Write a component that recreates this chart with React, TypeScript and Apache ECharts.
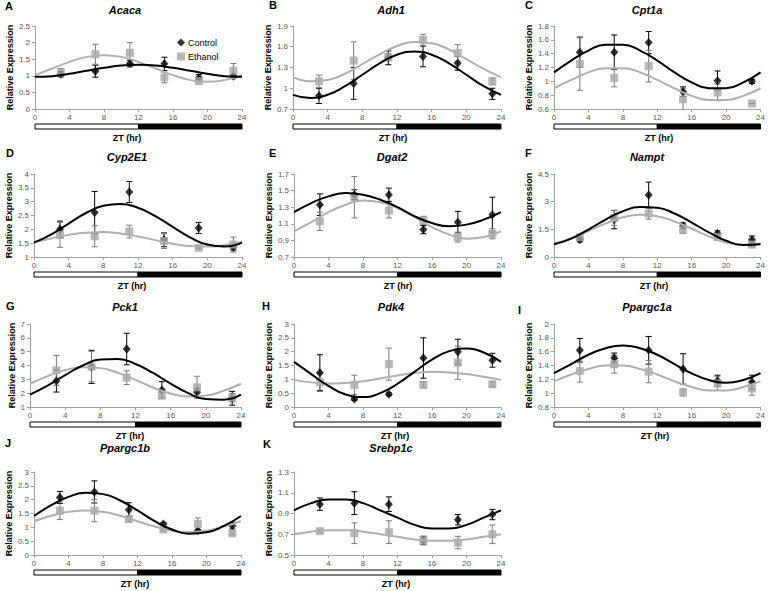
import React, { useEffect, useRef } from 'react';
import * as echarts from 'echarts';

// ---------- shared values ----------
const sampleHours = [3, 7, 11, 15, 19, 23];
const fitHours = [0, 2, 4, 6, 8, 10, 12, 14, 16, 18, 20, 22, 24];
const xTicks = [0, 4, 8, 12, 16, 20, 24];
const photoFrom = [0, 12];
const photoTo = [12, 24];
const photoFill = ['#ffffff', '#000000'];

// ---------- A  Acaca ----------
const acacaTicks = [0, 0.5, 1, 1.5, 2, 2.5];
const acacaControl = [1.05, 1.14, 1.37, 1.36, 0.94, 0.99];
const acacaControlErr = [0.08, 0.18, 0.1, 0.2, 0.1, 0.05];
const acacaEthanol = [1.1, 1.65, 1.69, 0.95, 0.84, 1.15];
const acacaEthanolErr = [0.12, 0.3, 0.31, 0.16, 0.05, 0.22];
const acacaControlFit = [0.97, 0.99, 1.06, 1.15, 1.24, 1.31, 1.33, 1.31, 1.24, 1.15, 1.06, 0.99, 0.97];
const acacaEthanolFit = [1.02, 1.22, 1.42, 1.57, 1.62, 1.57, 1.42, 1.22, 1.02, 0.87, 0.82, 0.87, 1.02];

// ---------- B  Adh1 ----------
const adh1Ticks = [0.7, 1.0, 1.3, 1.6, 1.9];
const adh1Control = [0.89, 1.07, 1.44, 1.46, 1.36, 0.92];
const adh1ControlErr = [0.11, 0.23, 0.1, 0.15, 0.1, 0.08];
const adh1Ethanol = [1.1, 1.4, 1.45, 1.7, 1.51, 1.1];
const adh1EthanolErr = [0.09, 0.27, 0.05, 0.08, 0.12, 0.05];
const adh1ControlFit = [0.905, 0.86, 0.905, 1.03, 1.195, 1.36, 1.485, 1.53, 1.485, 1.36, 1.195, 1.03, 0.905];
const adh1EthanolFit = [1.16, 1.1, 1.12, 1.21, 1.35, 1.49, 1.61, 1.67, 1.65, 1.56, 1.42, 1.28, 1.16];

// ---------- C  Cpt1a ----------
const cpt1aTicks = [0.6, 0.8, 1, 1.2, 1.4, 1.6, 1.8];
const cpt1aControl = [1.42, 1.42, 1.56, 0.85, 1.01, 1.0];
const cpt1aControlErr = [0.22, 0.25, 0.16, 0.07, 0.14, 0.03];
const cpt1aEthanol = [1.25, 1.05, 1.22, 0.74, 0.84, 0.68];
const cpt1aEthanolErr = [0.38, 0.13, 0.23, 0.16, 0.12, 0];
const cpt1aControlFit = [1.13, 1.3, 1.445, 1.53, 1.53, 1.445, 1.3, 1.13, 0.985, 0.9, 0.9, 0.985, 1.13];
const cpt1aEthanolFit = [0.9, 1.02, 1.13, 1.19, 1.19, 1.13, 1.02, 0.9, 0.79, 0.73, 0.73, 0.79, 0.9];

// ---------- D  Cyp2E1 ----------
const cyp2e1Ticks = [1, 1.5, 2, 2.5, 3, 3.5, 4];
const cyp2e1Control = [2.0, 2.61, 3.35, 1.62, 2.05, 1.35];
const cyp2e1ControlErr = [0.3, 0.76, 0.38, 0.25, 0.2, 0.1];
const cyp2e1Ethanol = [1.8, 1.75, 1.92, 1.58, 1.33, 1.45];
const cyp2e1EthanolErr = [0.45, 0.38, 0.23, 0.27, 0.03, 0.27];
const cyp2e1ControlFit = [1.52, 1.82, 2.21, 2.59, 2.85, 2.92, 2.78, 2.48, 2.09, 1.71, 1.45, 1.38, 1.52];
const cyp2e1EthanolFit = [1.54, 1.67, 1.8, 1.88, 1.9, 1.85, 1.74, 1.61, 1.48, 1.4, 1.38, 1.43, 1.54];

// ---------- E  Dgat2 ----------
const dgat2Ticks = [0.7, 0.9, 1.1, 1.3, 1.5, 1.7];
const dgat2Control = [1.33, 1.45, 1.45, 1.03, 1.12, 1.21];
const dgat2ControlErr = [0.13, 0.06, 0.08, 0.05, 0.13, 0.21];
const dgat2Ethanol = [1.13, 1.42, 1.26, 1.14, 0.94, 0.98];
const dgat2EthanolErr = [0.11, 0.25, 0.09, 0.05, 0.06, 0.06];
const dgat2ControlFit = [1.24, 1.35, 1.43, 1.47, 1.45, 1.39, 1.3, 1.19, 1.11, 1.07, 1.09, 1.15, 1.24];
const dgat2EthanolFit = [1.01, 1.12, 1.24, 1.33, 1.38, 1.36, 1.29, 1.18, 1.06, 0.97, 0.92, 0.94, 1.01];

// ---------- F  Nampt ----------
const namptTicks = [0, 1.5, 3, 4.5];
const namptControl = [0.94, 2.03, 3.36, 1.7, 1.27, 0.94];
const namptControlErr = [0.12, 0.5, 0.7, 0.15, 0.15, 0.2];
const namptEthanol = [1.07, 2.12, 2.35, 1.48, 1.08, 0.67];
const namptEthanolErr = [0.15, 0.4, 0.3, 0.2, 0.15, 0.1];
const namptControlFit = [0.69, 1.0, 1.49, 2.03, 2.48, 2.71, 2.67, 2.36, 1.87, 1.33, 0.88, 0.65, 0.69];
const namptEthanolFit = [0.73, 1.01, 1.41, 1.82, 2.15, 2.29, 2.21, 1.93, 1.53, 1.12, 0.79, 0.65, 0.73];

// ---------- G  Pck1 ----------
const pck1Ticks = [1, 2, 3, 4, 5, 6, 7];
const pck1Control = [2.88, 3.9, 5.19, 2.23, 2.06, 1.63];
const pck1ControlErr = [0.8, 1.2, 1.14, 0.6, 0.3, 0.5];
const pck1Ethanol = [3.65, 3.92, 3.12, 1.82, 2.42, 1.67];
const pck1EthanolErr = [1.08, 1.1, 0.5, 0.2, 0.8, 0.3];
const pck1ControlFit = [1.89, 2.54, 3.31, 4.0, 4.43, 4.47, 4.11, 3.46, 2.69, 2.0, 1.57, 1.53, 1.89];
const pck1EthanolFit = [2.68, 3.23, 3.67, 3.88, 3.81, 3.47, 2.96, 2.41, 1.97, 1.76, 1.83, 2.17, 2.68];

// ---------- H  Pdk4 ----------
const pdk4Ticks = [0, 0.5, 1, 1.5, 2, 2.5, 3];
const pdk4Control = [1.24, 0.29, 0.46, 1.77, 2.0, 1.69];
const pdk4ControlErr = [0.65, 0.05, 0.05, 0.73, 0.45, 0.25];
const pdk4Ethanol = [0.89, 0.8, 1.55, 0.8, 1.6, 0.82];
const pdk4EthanolErr = [0.33, 0.35, 0.58, 0.1, 0.6, 0.08];
const pdk4ControlFit = [1.63, 1.19, 0.76, 0.45, 0.36, 0.5, 0.84, 1.28, 1.71, 2.02, 2.11, 1.97, 1.63];
const pdk4EthanolFit = [0.98, 0.89, 0.85, 0.87, 0.93, 1.03, 1.14, 1.23, 1.27, 1.25, 1.19, 1.09, 0.98];

// ---------- I  Ppargc1a ----------
const ppargc1aTicks = [0.8, 1, 1.2, 1.4, 1.6, 1.8, 2];
const ppargc1aControl = [1.62, 1.51, 1.62, 1.35, 1.18, 1.16];
const ppargc1aControlErr = [0.17, 0.07, 0.2, 0.22, 0.08, 0.1];
const ppargc1aEthanol = [1.32, 1.42, 1.31, 1.01, 1.14, 1.07];
const ppargc1aEthanolErr = [0.16, 0.13, 0.16, 0.05, 0.1, 0.1];
const ppargc1aControlFit = [1.29, 1.42, 1.555, 1.65, 1.69, 1.65, 1.555, 1.42, 1.285, 1.19, 1.15, 1.19, 1.29];
const ppargc1aEthanolFit = [1.17, 1.27, 1.35, 1.4, 1.4, 1.35, 1.27, 1.17, 1.09, 1.04, 1.04, 1.09, 1.17];

// ---------- J  Ppargc1b ----------
const ppargc1bTicks = [0, 0.5, 1, 1.5, 2, 2.5, 3];
const ppargc1bControl = [2.08, 2.28, 1.64, 1.12, 0.88, 1.06];
const ppargc1bControlErr = [0.22, 0.4, 0.25, 0.05, 0.05, 0.12];
const ppargc1bEthanol = [1.6, 1.6, 1.3, 0.92, 1.12, 0.78];
const ppargc1bEthanolErr = [0.32, 0.4, 0.1, 0.05, 0.22, 0.05];
const ppargc1bControlFit = [1.41, 1.8, 2.1, 2.25, 2.2, 1.97, 1.61, 1.22, 0.92, 0.77, 0.82, 1.05, 1.41];
const ppargc1bEthanolFit = [1.22, 1.42, 1.56, 1.61, 1.56, 1.42, 1.22, 1.03, 0.88, 0.83, 0.88, 1.03, 1.22];

// ---------- K  Srebp1c ----------
const srebp1cTicks = [0.5, 0.7, 0.9, 1.1, 1.3];
const srebp1cControl = [0.99, 1.0, 0.99, 0.64, 0.84, 0.89];
const srebp1cControlErr = [0.06, 0.11, 0.07, 0.04, 0.05, 0.05];
const srebp1cEthanol = [0.73, 0.71, 0.72, 0.64, 0.62, 0.7];
const srebp1cEthanolErr = [0.01, 0.1, 0.11, 0.04, 0.06, 0.09];
const srebp1cControlFit = [0.93, 1.0, 1.035, 1.035, 1.0, 0.93, 0.86, 0.79, 0.755, 0.755, 0.79, 0.86, 0.93];
const srebp1cEthanolFit = [0.7, 0.725, 0.738, 0.738, 0.725, 0.7, 0.675, 0.65, 0.638, 0.638, 0.65, 0.675, 0.7];

const panels = [
  { letter: 'A', gene: 'Acaca', ticks: acacaTicks, control: acacaControl, controlErr: acacaControlErr, ethanol: acacaEthanol, ethanolErr: acacaEthanolErr, controlFit: acacaControlFit, ethanolFit: acacaEthanolFit },
  { letter: 'B', gene: 'Adh1', ticks: adh1Ticks, control: adh1Control, controlErr: adh1ControlErr, ethanol: adh1Ethanol, ethanolErr: adh1EthanolErr, controlFit: adh1ControlFit, ethanolFit: adh1EthanolFit },
  { letter: 'C', gene: 'Cpt1a', ticks: cpt1aTicks, control: cpt1aControl, controlErr: cpt1aControlErr, ethanol: cpt1aEthanol, ethanolErr: cpt1aEthanolErr, controlFit: cpt1aControlFit, ethanolFit: cpt1aEthanolFit },
  { letter: 'D', gene: 'Cyp2E1', ticks: cyp2e1Ticks, control: cyp2e1Control, controlErr: cyp2e1ControlErr, ethanol: cyp2e1Ethanol, ethanolErr: cyp2e1EthanolErr, controlFit: cyp2e1ControlFit, ethanolFit: cyp2e1EthanolFit },
  { letter: 'E', gene: 'Dgat2', ticks: dgat2Ticks, control: dgat2Control, controlErr: dgat2ControlErr, ethanol: dgat2Ethanol, ethanolErr: dgat2EthanolErr, controlFit: dgat2ControlFit, ethanolFit: dgat2EthanolFit },
  { letter: 'F', gene: 'Nampt', ticks: namptTicks, control: namptControl, controlErr: namptControlErr, ethanol: namptEthanol, ethanolErr: namptEthanolErr, controlFit: namptControlFit, ethanolFit: namptEthanolFit },
  { letter: 'G', gene: 'Pck1', ticks: pck1Ticks, control: pck1Control, controlErr: pck1ControlErr, ethanol: pck1Ethanol, ethanolErr: pck1EthanolErr, controlFit: pck1ControlFit, ethanolFit: pck1EthanolFit },
  { letter: 'H', gene: 'Pdk4', ticks: pdk4Ticks, control: pdk4Control, controlErr: pdk4ControlErr, ethanol: pdk4Ethanol, ethanolErr: pdk4EthanolErr, controlFit: pdk4ControlFit, ethanolFit: pdk4EthanolFit },
  { letter: 'I', gene: 'Ppargc1a', ticks: ppargc1aTicks, control: ppargc1aControl, controlErr: ppargc1aControlErr, ethanol: ppargc1aEthanol, ethanolErr: ppargc1aEthanolErr, controlFit: ppargc1aControlFit, ethanolFit: ppargc1aEthanolFit },
  { letter: 'J', gene: 'Ppargc1b', ticks: ppargc1bTicks, control: ppargc1bControl, controlErr: ppargc1bControlErr, ethanol: ppargc1bEthanol, ethanolErr: ppargc1bEthanolErr, controlFit: ppargc1bControlFit, ethanolFit: ppargc1bEthanolFit },
  { letter: 'K', gene: 'Srebp1c', ticks: srebp1cTicks, control: srebp1cControl, controlErr: srebp1cControlErr, ethanol: srebp1cEthanol, ethanolErr: srebp1cEthanolErr, controlFit: srebp1cControlFit, ethanolFit: srebp1cEthanolFit },
];

// ---------- layout (pixels) ----------
const layouts = [
  { left: 35, top: 26, width: 207, letterX: 5, letterY: 6, titleX: 125, titleY: 10, ztX: 127, nameGap: 15.5 },
  { left: 293, top: 26, width: 208, letterX: 269, letterY: 5, titleX: 391, titleY: 10, ztX: 393, nameGap: 17.5 },
  { left: 554, top: 26, width: 208, letterX: 525, letterY: 5, titleX: 647, titleY: 10, ztX: 659, nameGap: 16.5 },
  { left: 34, top: 174, width: 208, letterX: 6, letterY: 153, titleX: 127, titleY: 157, ztX: 132, nameGap: 14.5 },
  { left: 294, top: 174, width: 207, letterX: 269, letterY: 153, titleX: 392, titleY: 157, ztX: 398, nameGap: 18.5 },
  { left: 554, top: 174, width: 208, letterX: 525, letterY: 153, titleX: 647, titleY: 157, ztX: 654, nameGap: 17.5 },
  { left: 30, top: 324, width: 211, letterX: 6, letterY: 306, titleX: 125, titleY: 307, ztX: 130, nameGap: 12.5 },
  { left: 294, top: 324, width: 207, letterX: 262, letterY: 306, titleX: 391, titleY: 307, ztX: 395, nameGap: 18.5 },
  { left: 554, top: 324, width: 208, letterX: 518, letterY: 310, titleX: 647, titleY: 307, ztX: 655, nameGap: 17.5 },
  { left: 34, top: 472, width: 207, letterX: 5, letterY: 443, titleX: 125, titleY: 448, ztX: 135, nameGap: 14.5 },
  { left: 294, top: 472, width: 207, letterX: 263, letterY: 444, titleX: 391, titleY: 448, ztX: 396, nameGap: 18.5 },
];
const plotHeight = 83;
const barOffset = 15;
const barHeight = 5;

const FONT = 'Arial, "Liberation Sans", Helvetica, sans-serif';
const BLACK = '#000000';
const GRAY = '#a6a6a6';
const AXIS = '#a0a0a0';
const LABEL = '#595959';

function errRender(color: string) {
  return (params: any, api: any) => {
    const x = api.value(0);
    const lo = api.coord([x, api.value(1)]);
    const hi = api.coord([x, api.value(2)]);
    const cap = 3;
    const st = { stroke: color, lineWidth: 1 };
    return {
      type: 'group',
      children: [
        { type: 'line', shape: { x1: lo[0], y1: lo[1], x2: hi[0], y2: hi[1] }, style: st },
        { type: 'line', shape: { x1: lo[0] - cap, y1: lo[1], x2: lo[0] + cap, y2: lo[1] }, style: st },
        { type: 'line', shape: { x1: hi[0] - cap, y1: hi[1], x2: hi[0] + cap, y2: hi[1] }, style: st },
      ],
    };
  };
}

function buildOption() {
  const grid: any[] = [];
  const xAxis: any[] = [];
  const yAxis: any[] = [];
  const series: any[] = [];
  const graphic: any[] = [];

  panels.forEach((p, i) => {
    const L = layouts[i];
    const yMin = p.ticks[0];
    const yMax = p.ticks[p.ticks.length - 1];
    grid.push({ left: L.left, top: L.top, width: L.width, height: plotHeight });
    xAxis.push({
      type: 'value', gridIndex: i, min: 0, max: 24,
      axisLine: { show: true, onZero: false, lineStyle: { color: AXIS, width: 1 } },
      axisTick: { show: true, customValues: xTicks, length: 3, lineStyle: { color: AXIS } },
      axisLabel: { customValues: xTicks, fontSize: 8, color: LABEL, margin: 4, fontFamily: FONT },
      splitLine: { show: false },
    });
    yAxis.push({
      type: 'value', gridIndex: i, min: yMin, max: yMax,
      name: 'Relative Expression', nameLocation: 'middle', nameGap: L.nameGap,
      nameTextStyle: { fontSize: 9, fontWeight: 'bold', color: BLACK, fontFamily: FONT },
      axisLine: { show: true, lineStyle: { color: AXIS, width: 1 } },
      axisTick: { show: true, customValues: p.ticks, length: 3, lineStyle: { color: AXIS } },
      axisLabel: { customValues: p.ticks, fontSize: 8, color: LABEL, margin: 5, fontFamily: FONT },
      splitLine: { show: false },
    });

    series.push({
      type: 'line', name: 'Ethanol fit', xAxisIndex: i, yAxisIndex: i,
      data: fitHours.map((h, k) => [h, p.ethanolFit[k]]),
      smooth: true, showSymbol: false, silent: true,
      lineStyle: { color: '#b0b0b0', width: 2 },
    });
    series.push({
      type: 'line', name: 'Control fit', xAxisIndex: i, yAxisIndex: i,
      data: fitHours.map((h, k) => [h, p.controlFit[k]]),
      smooth: true, showSymbol: false, silent: true,
      lineStyle: { color: BLACK, width: 2 },
    });
    series.push({
      type: 'custom', name: 'Control error', xAxisIndex: i, yAxisIndex: i, clip: true, silent: true,
      data: sampleHours.map((h, k) => [h, p.control[k] - p.controlErr[k], p.control[k] + p.controlErr[k]]),
      encode: { x: 0, y: [1, 2] },
      renderItem: errRender(BLACK),
    });
    series.push({
      type: 'custom', name: 'Ethanol error', xAxisIndex: i, yAxisIndex: i, clip: true, silent: true,
      data: sampleHours.map((h, k) => [h, p.ethanol[k] - p.ethanolErr[k], p.ethanol[k] + p.ethanolErr[k]]),
      encode: { x: 0, y: [1, 2] },
      renderItem: errRender('#7a7a7a'),
    });
    series.push({
      type: 'scatter', name: 'Control', xAxisIndex: i, yAxisIndex: i, silent: true,
      data: sampleHours.map((h, k) => [h, p.control[k]]),
      symbol: 'diamond', symbolSize: [8, 9],
      itemStyle: { color: BLACK },
    });
    series.push({
      type: 'scatter', name: 'Ethanol', xAxisIndex: i, yAxisIndex: i, silent: true,
      data: sampleHours.map((h, k) => [h, p.ethanol[k]]),
      symbol: 'rect', symbolSize: 8,
      itemStyle: { color: GRAY },
    });
    series.push({
      type: 'custom', name: 'Light/Dark', xAxisIndex: i, yAxisIndex: i, clip: false, silent: true,
      data: photoFrom.map((f, k) => [f, photoTo[k]]),
      encode: { x: [0, 1] },
      renderItem: (params: any, api: any) => {
        const a = api.coord([api.value(0), yMin]);
        const b = api.coord([api.value(1), yMin]);
        return {
          type: 'rect',
          shape: { x: a[0], y: a[1] + barOffset, width: b[0] - a[0], height: barHeight },
          style: { fill: photoFill[params.dataIndex], stroke: BLACK, lineWidth: 1 },
        };
      },
    });

    graphic.push({
      type: 'text', x: L.letterX, y: L.letterY,
      style: { text: p.letter, font: `bold 11px ${FONT}`, fill: BLACK, align: 'left', verticalAlign: 'middle' },
    });
    graphic.push({
      type: 'text', x: L.titleX, y: L.titleY,
      style: { text: p.gene, font: `italic bold 11px ${FONT}`, fill: BLACK, align: 'center', verticalAlign: 'middle' },
    });
    graphic.push({
      type: 'text', x: L.ztX, y: L.top + plotHeight + barOffset + barHeight + 9,
      style: { text: 'ZT (hr)', font: `bold 9px ${FONT}`, fill: BLACK, align: 'center', verticalAlign: 'middle' },
    });
  });

  return {
    animation: false,
    backgroundColor: '#ffffff',
    grid, xAxis, yAxis, series, graphic,
    legend: {
      data: [
        { name: 'Control', icon: 'diamond' },
        { name: 'Ethanol', icon: 'rect' },
      ],
      orient: 'vertical', left: 172, top: 33, itemWidth: 8, itemHeight: 8, itemGap: 5,
      selectedMode: false,
      textStyle: { fontSize: 9, color: BLACK, fontFamily: FONT, padding: [0, 0, 0, -2] },
    },
  };
}

export default function App() {
  const ref = useRef<HTMLDivElement>(null);
  useEffect(() => {
    if (!ref.current) return;
    const chart = echarts.init(ref.current, undefined, { renderer: 'svg' });
    chart.setOption(buildOption() as any);
    return () => chart.dispose();
  }, []);
  return (
    <div
      ref={ref}
      style={{ position: 'absolute', left: 0, top: 0, width: 768, height: 591, background: '#fff' }}
    />
  );
}
